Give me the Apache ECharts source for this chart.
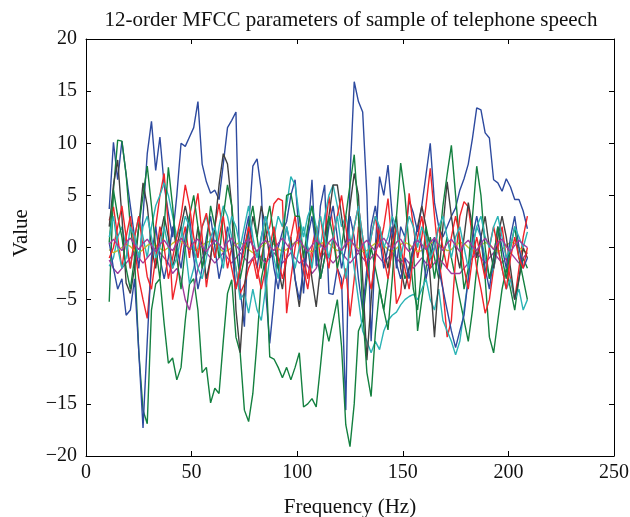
<!DOCTYPE html>
<html>
<head>
<meta charset="utf-8">
<script src="https://cdn.jsdelivr.net/npm/echarts@6/dist/echarts.min.js"></script>
<style>
html,body{margin:0;padding:0;background:#fff;}
#chart{width:630px;height:517px;}
</style>
</head>
<body>
<div id="chart"></div>
<script>
// Frame positions (x values)
const frames = [
  11,13,15,17,19,21,23,25,27,29,
  31,33,35,37,39,41,43,45,47,49,
  51,53,55,57,59,61,63,65,67,69,
  71,73,75,77,79,81,83,85,87,89,
  91,93,95,97,99,101,103,105,107,109,
  111,113,115,117,119,121,123,125,127,129,
  131,133,135,137,139,141,143,145,147,149,
  151,153,155,157,159,161,163,165,167,169,
  171,173,175,177,179,181,183,185,187,189,
  191,193,195,197,199,201,203,205,207,209
];

const c1 = [
  3.7,10.1,6.5,10.2,7,4,1,-2,3,9,
  12.1,7.4,10.6,6,3.3,1,5,10,9.7,10.6,
  11.5,14.0,8,6.3,5.2,5.5,4.6,8,11.5,12.2,
  13.0,-4,-7.6,2,7.8,8.5,5.5,-4,-9.2,-5,
  0,1.5,2.5,5,6.5,1,-4.4,1,6.5,-1.8,
  4,6,-4.4,-4.5,-2,-3,-15.6,6.8,15.9,14,
  13,5,-9,0,6.8,5,7.9,3,-2,2,
  1,4.5,3.3,1.5,4,7,10,4.3,2,1,
  2,3,3.8,5.5,6.6,8,10.5,13.4,13.2,11,
  10.5,6.5,6.2,5.4,6.6,5.8,4.6,4.6,3.5,1.8
];
const c2 = [
  -5.2,5.5,10.3,10.2,7,2,-1,-10,-15.6,-16.9,
  -6,-3.5,-3,-7.3,-11.1,-10.6,-12.7,-11.5,-7,-3.5,
  -3,-6,-12,-11.5,-14.9,-13.5,-14,-9,-4.4,-3.1,
  -8.6,-10.1,-15.6,-16.7,-14,-9,-3,-1,-10.5,-10.7,
  -11.5,-12.5,-11.5,-12.7,-11.5,-10.1,-15.3,-15,-14.5,-15.3,
  -11.4,-7.3,-9,-7,-5,-9.5,-17,-19.1,-15,-8,
  -7,-3,0,-2,-4,-6,-3,0,2,-1,
  -3,-2,0,-8,-5,-2,1,-1,-3,-1,
  1,-1,-3,-5,-7,-9,-6,-2,1,-3,
  -8.6,-10.1,-7,-4,-2,-4,-6,-3,-1,-2
];
const c3 = [
  2.6,3.9,1,-2,1,3,0,-3,-5,-6.8,
  -2,2,5,7.1,2,-5,-3,0,2,-1,
  3,5.2,1,-3.8,-1,2,4.2,1,-2,0,
  -2,-4.4,-3.5,-2,-1,-3,-1,1,2,4.2,
  4.7,4.5,-6.3,-3,0,2,-1,-3,0,2,
  -1,1,4.9,2,-2,-4,-2,-6.6,-3,2,
  0,-2,1,3,0,2,4.7,0,-5.4,-4.4,
  0,5.2,2,-1,1,4,7.6,3,-1,-4,
  -8.6,-7,-1,3,4.4,3.9,1,-2,-4,-6.3,
  -5,-2,0,2,-1,-3,-5,-2,1,3.0
];
const c4 = [
  -1.8,-1,1,2,0,-2,1,3,1,-1,
  2,4,5,6.2,5,3,1,2,0,-3.5,
  -2,0,2,3,1,-1,2,4,3,1,
  -2,-5,-4.4,-6.3,-4,-6,-7,-4,-1,1,
  3,2,4,6.8,6,3,1,3,4,2,
  0,3,5,6,4,2,3,1,-2,-5,
  -8,-9,-10.1,-9,-9.8,-8,-7,-6.5,-6.2,-5.5,
  -5,-4.7,-4.5,-5,-4,-3,-5,-6,-4,-7,
  -8,-9,-10.3,-9,-6,-3,0,2,1,-1,
  -3,-2,0,-2,-4,-3,-5,-4,-6,-5
];
const c5 = [
  -1.2,-2,-2.5,-2,-1.5,-1,-0.5,-1,-1.5,-1,
  -0.5,0,-0.5,-1,-1.5,-2.5,-2,-3,-5,-6,
  -4,-2,-1,-0.5,-1,-1.5,-1,-0.5,-1,-1.5,
  -1,-0.5,-1,-1.5,-1,-0.5,-1,-1.5,-1,-0.5,
  -1,-1.5,-1,-0.5,-1,-1.5,-1.2,-1.8,-2.5,-2,
  -1,-0.5,-1,-1.5,-1,-0.5,-1,-1.5,-1,-0.5,
  -1,-1.5,-1,-0.5,-1,-1.5,-1,-0.5,-1,-1.5,
  -1,-1.5,-2,-1.5,-1,-1.5,-2,-1.5,-1,-1.5,
  -2,-2.5,-2.5,-2.5,-2,-1.5,-1,-0.5,-1,-1.5,
  -1,-0.5,-1,-1.5,-1,-0.5,-1,-1.5,-1,-0.5
];
const c6 = [
  -0.2,-0.5,-0.3,0,0.3,0.1,-0.3,-0.5,-0.2,0.2,
  0.4,0.2,-0.1,-0.3,0,0.4,0.7,0.6,0.3,0,
  -0.3,-0.2,0.2,0.5,0.6,0.3,-0.1,-0.4,-0.3,0,
  0.3,0.5,0.2,-0.2,-0.5,-0.3,0.1,0.4,0.6,0.3,
  -0.1,-0.4,-0.2,0.2,0.5,0.4,0,-0.3,-0.4,-0.1,
  0.3,0.6,0.4,0,-0.3,-0.2,0.2,0.5,0.3,-0.1,
  -0.4,-0.3,0.1,0.4,0.5,0.2,-0.2,-0.4,-0.1,0.3,
  0.5,0.3,-0.1,-0.4,-0.3,0.1,0.4,0.6,0.3,0,
  -0.3,-0.2,0.2,0.5,0.4,0,-0.3,-0.2,0.2,0.5,
  0.3,-0.1,-0.4,-0.2,0.2,0.5,0.4,0,-0.3,-0.5
];
const c7 = [
  2,6,8.4,3,-3.4,-4.4,-2,2,6.2,4,
  0,-2,1,3,1,-2,0,2,4,2,
  -1,2,0,-3,-1,2,6,9.0,8,4,
  -6,-10.1,-4,0,3,1,4,2,-1,1,
  -2,-4,-1,1,-3,-5.7,-2,0,-3,-5.7,
  -2,1,3,6,6,3,0,4,7.1,5,
  -3,-10.8,-5,0,2,0,-2,1,3,-2,
  -4,-2,0,2,4,2,-3,-8.6,-3,2,
  6.3,3,0,-2,1,4.3,2,-1,1,3,
  0,-2,1,3,1,-2,-5,-3,0,-1
];
const c8 = [
  0.5,-2,-4,-3,-6.5,-6,-3,-10,-17.3,-9,
  -1,2,-1,-3,-1,2,0,-2,1,3,
  -1,-4,-2,1,3,0,-3,-1,2,0,
  -4,-2,1,3,0,-2,1,3,1,-2,
  -4,-1,2,0,-3,-5,-2,1,3,0,
  -3,-1,2,4,1,-2,0,3,1,-3,
  -6,-2,2,4,1,-2,0,2,-1.5,-3,
  -1,-3,0,2,0,-3,-1,1,-2,-4,
  -6,-8,-9.6,-8,-6.5,-3,1,3,1,-2,
  -4,-1,2,0,-2,1,3,0,-2,-1
];
const c9 = [
  0.5,5.5,3,1,-2,-4,-1,2,5,7.8,
  4,0,-3,2,7.7,4,-1,-4,0,3,
  5,2,-2,0,4,2,-1,3,6,4,
  0,-3,-1,2,4,1,-2,2,4,1,
  -2,0,5,5.2,3,3,-1,2,4,1,
  -3,-1,3,1,-2,0,3,6,8.9,3,
  -6,-12,-14.3,-8.2,-4,-6,-7.9,-3,3,8.1,
  5,0,-4,-6,-2,2,0,-3,0,4,
  7,9.8,5,0,-4,-2,3,7.8,5,0,
  -3,-1,2,-1,-3,0,2,-1,-3,-5
];
const c10 = [
  -1,0,2,4,1,-2,1,3,0,-2.8,
  -4,-1,2,0,-3,-1,1,3,6,4,
  1,-1,2,3.3,1,-1,1,3,0,-2,
  -4,-2,0,2,0,-2,-4,-2,0,2,
  -1,-3,-1,1,3,0,-2,-4,-1,1,
  3,0,-2,1,3,5,2,-1,2,4,
  1,-2,-4,-1,2,-1,-3,0,2,0,
  -2,-4,-1,1,3,0,-2,0,2,0,
  -2,1,3,1,-2,-4,-1,1,-1,-3,
  0,2,0,-2,-4,-1,1,-1,-2,0
];
const c11 = [
  1,3,0,-2,-1,2,1,-1,2,3,
  1,-1,0,2,0,-2,-1,1,3,2,
  0,-2,-3,-1,1,2,0,-2,1,3,
  2,0,2,4,1,-1,1,3,1,-1,
  -3,0,2,0,-2,0,2,0,-2,1,
  3,1,-1,1,3,0,-3,0,2,4,
  1,-1,1,3,2,0,1,3,2,-1,
  1,3,2,0,2,1,-1,0,2,3,
  1,-1,1,2,0,-2,0,2,3,1,
  0,2,3,1,-1,0,2,1,0,1.5
];
const c12 = [
  0.3,0.8,0.2,-0.3,0.5,0.9,0.3,-0.2,0.4,0.8,
  0.2,-0.4,0.3,0.7,0.1,-0.3,0.4,0.9,0.3,-0.2,
  0.5,0.8,0.1,-0.4,0.2,0.7,0.3,-0.2,0.5,0.9,
  0.2,-0.3,0.4,0.8,0.2,-0.4,0.3,0.7,0.1,-0.3,
  0.4,0.9,0.3,-0.2,0.5,0.8,0.1,-0.4,0.2,0.7,
  0.3,-0.2,0.5,0.9,0.2,-0.3,0.4,0.8,0.2,-0.4,
  0.3,0.7,0.1,-0.3,0.4,0.9,0.3,-0.2,0.5,0.8,
  0.1,-0.4,0.2,0.7,0.3,-0.2,0.5,0.9,0.2,-0.3,
  0.4,0.8,0.2,-0.4,0.3,0.7,0.1,-0.3,0.4,0.9,
  0.3,-0.2,0.5,0.8,0.1,-0.4,0.2,0.7,0.3,0
];

const coefficients = [c1,c2,c3,c4,c5,c6,c7,c8,c9,c10,c11,c12];
const colors = ['#2d4a9f','#13803f','#f0242a','#2bb3b5','#a03c9c','#c1bf2c','#404040',
                '#2d4a9f','#13803f','#f0242a','#2bb3b5','#a03c9c'];

const titleText = '12-order MFCC parameters of sample of telephone speech';
const xName = 'Frequency (Hz)';
const yName = 'Value';

const FONT = '"Liberation Serif", "DejaVu Serif", serif';
const minus = v => String(v).replace('-', '\u2212');

const chart = echarts.init(document.getElementById('chart'), null, {renderer: 'canvas'});

const axisCommon = {
  type: 'value',
  splitLine: {show: false},
  axisLine: {show: true, onZero: false, lineStyle: {color: '#000', width: 1}},
  axisTick: {show: true, inside: true, length: 5, lineStyle: {color: '#000', width: 1}}
};

const option = {
  animation: false,
  backgroundColor: '#fff',
  title: {
    text: titleText, left: 346, top: 5, textAlign: 'center',
    textStyle: {fontFamily: FONT, fontSize: 21, fontWeight: 'normal', color: '#111'}
  },
  grid: {left: 86, right: 16, top: 39, bottom: 61, containLabel: false, outerBoundsMode: 'none'},
  graphic: [{
    type: 'text',
    x: 21, y: 233,
    rotation: Math.PI / 2,
    style: {
      text: yName, fill: '#111',
      font: '21px "Liberation Serif", "DejaVu Serif", serif',
      align: 'center', verticalAlign: 'middle'
    }
  }],
  xAxis: [
    Object.assign({}, axisCommon, {
      min: 0, max: 250, interval: 50, position: 'bottom',
      name: xName, nameLocation: 'middle', nameGap: 41,
      nameTextStyle: {fontFamily: FONT, fontSize: 21, color: '#111'},
      axisLabel: {fontFamily: FONT, fontSize: 20, color: '#111', margin: 7, formatter: minus}
    }),
    Object.assign({}, axisCommon, {
      min: 0, max: 250, interval: 50, position: 'top',
      axisLabel: {show: false}
    })
  ],
  yAxis: [
    Object.assign({}, axisCommon, {
      min: -20, max: 20, interval: 5, position: 'left',
      axisLabel: {fontFamily: FONT, fontSize: 20, color: '#111', margin: 9, formatter: minus}
    }),
    Object.assign({}, axisCommon, {
      min: -20, max: 20, interval: 5, position: 'right',
      axisLabel: {show: false}
    })
  ],
  series: coefficients.map((vals, i) => ({
    type: 'line',
    name: 'C' + (i + 1),
    xAxisIndex: 0,
    yAxisIndex: 0,
    showSymbol: false,
    symbol: 'none',
    data: frames.map((f, j) => [f, vals[j]]),
    lineStyle: {color: colors[i], width: 1.4},
    itemStyle: {color: colors[i]},
    z: 2 + i
  }))
};

chart.setOption(option);
</script>
</body>
</html>
